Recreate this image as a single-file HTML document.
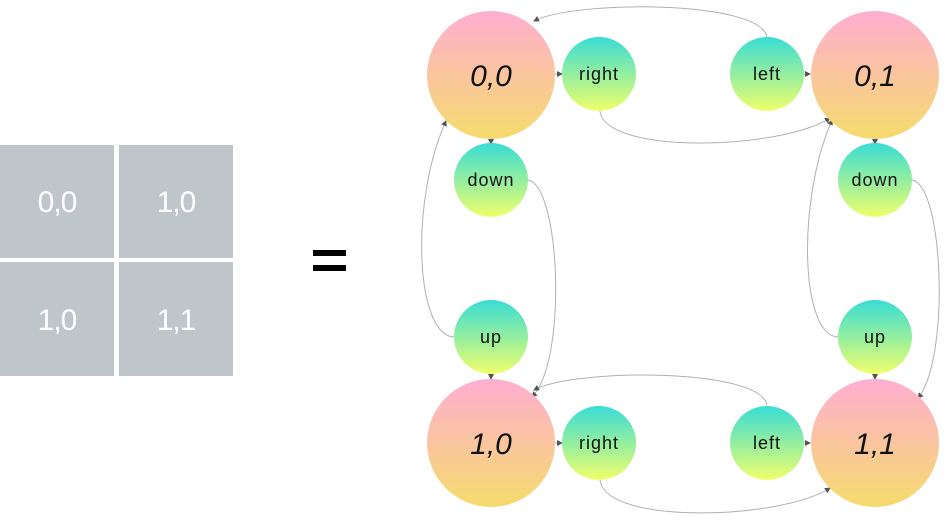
<!DOCTYPE html>
<html><head><meta charset="utf-8"><style>
body{margin:0;background:#fff;width:946px;height:516px;overflow:hidden;font-family:"Liberation Sans",sans-serif}
</style></head><body>
<svg width="946" height="516" viewBox="0 0 946 516">
<defs>
<linearGradient id="gb" x1="0" y1="0" x2="0" y2="1"><stop offset="0" stop-color="#ffaed1"/><stop offset="1" stop-color="#f5dc6c"/></linearGradient>
<linearGradient id="gs" x1="0" y1="0" x2="0" y2="1"><stop offset="0" stop-color="#38ddd5"/><stop offset="1" stop-color="#f0ff6c"/></linearGradient>
<marker id="ar" markerWidth="6" markerHeight="6" refX="5" refY="3" orient="auto"><path d="M0,0 L6,3 L0,6z" fill="#555"/></marker>
</defs>
<g fill="#bec6ca">
<rect x="0" y="145" width="114" height="113"/>
<rect x="119" y="145" width="114" height="113"/>
<rect x="0" y="262" width="114" height="114"/>
<rect x="119" y="262" width="114" height="114"/>
</g>
<g fill="#fff" font-size="30" text-anchor="middle" letter-spacing="-1">
<text x="57" y="212">0,0</text>
<text x="176" y="212">1,0</text>
<text x="57" y="330">1,0</text>
<text x="176" y="330">1,1</text>
</g>
<g fill="#000">
<rect x="313" y="250" width="33" height="6"/><rect x="313" y="265" width="33" height="6"/>
</g>
<g fill="none" stroke="#a9b1b5" stroke-width="1" marker-end="url(#ar)">
<path d="M767,37 C760,0 575,0 534,21"/>
<path d="M600,111 C605,155 780,150 830,118"/>
<path d="M528,180 C560,185 568,360 532,397"/>
<path d="M454,337 C415,335 410,200 446,121"/>
<path d="M555,74 L562,74"/><path d="M491,139 L491,144"/><path d="M491,374 L491,379"/><path d="M804,74 L810,74"/>
<path d="M912,180 C944,185 950,360 918,398"/>
<path d="M838,337 C800,335 797,200 832,120"/>
<path d="M875,139 L875,144"/><path d="M875,374 L875,379"/>
<path d="M767,405 C760,368 575,368 534,390"/>
<path d="M600,480 C605,525 780,520 830,488"/>
<path d="M555,443 L562,443"/><path d="M804,443 L810,443"/>
</g>
<g font-size="30" font-style="italic" text-anchor="middle" fill="#111">
<circle cx="491" cy="75" r="64" fill="url(#gb)"/>
<circle cx="875" cy="75" r="64" fill="url(#gb)"/>
<circle cx="491" cy="443" r="64" fill="url(#gb)"/>
<circle cx="875" cy="443" r="64" fill="url(#gb)"/>
<text x="491" y="86">0,0</text><text x="875" y="86">0,1</text><text x="491" y="454">1,0</text><text x="875" y="454">1,1</text>
</g>
<g font-size="18" text-anchor="middle" fill="#111" letter-spacing="1">
<circle cx="599" cy="74" r="37" fill="url(#gs)"/><text x="599" y="80">right</text>
<circle cx="767" cy="74" r="37" fill="url(#gs)"/><text x="767" y="80">left</text>
<circle cx="491" cy="180" r="37" fill="url(#gs)"/><text x="491" y="186">down</text>
<circle cx="491" cy="337" r="37" fill="url(#gs)"/><text x="491" y="343">up</text>
<circle cx="875" cy="180" r="37" fill="url(#gs)"/><text x="875" y="186">down</text>
<circle cx="875" cy="337" r="37" fill="url(#gs)"/><text x="875" y="343">up</text>
<circle cx="599" cy="443" r="37" fill="url(#gs)"/><text x="599" y="449">right</text>
<circle cx="767" cy="443" r="37" fill="url(#gs)"/><text x="767" y="449">left</text>
</g>
</svg>
</body></html>
